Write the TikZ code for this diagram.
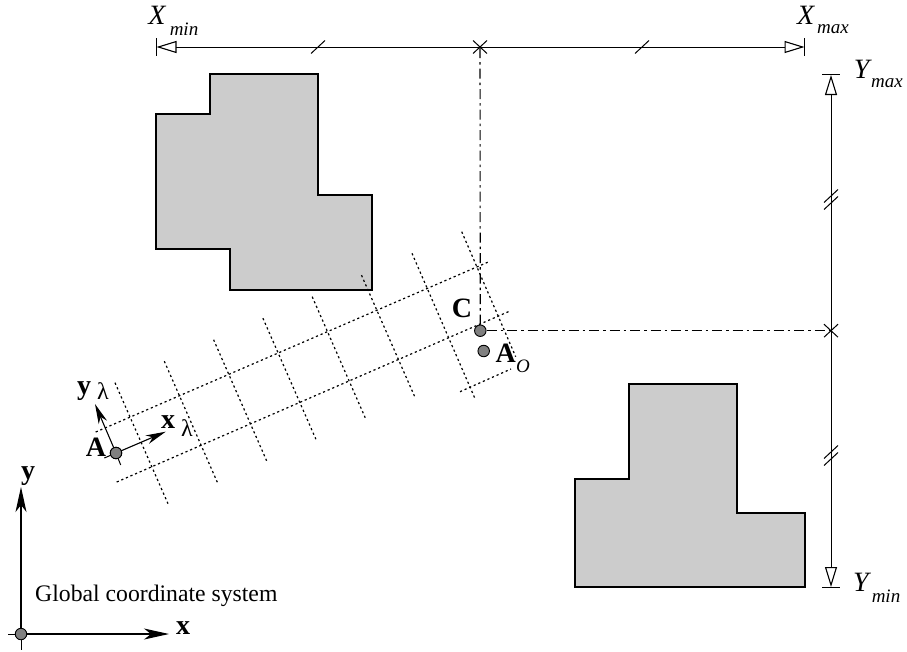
\documentclass[tikz,border=0pt]{standalone}
\usepackage{fontspec}
\setmainfont{Liberation Serif}
\usetikzlibrary{calc}
\usetikzlibrary{arrows.meta}
\tikzset{
  shape box/.style={draw=black,fill=black!20,line width=2.2pt,line join=miter},
  dim line/.style={black,line width=1pt},
  dim tip/.style={{Triangle[open,length=20pt,width=12pt,line width=1.1pt]}-{Triangle[open,length=20pt,width=12pt,line width=1.1pt]}},
  grid line/.style={black,line width=1.2pt,dash pattern=on 2.2pt off 2.8pt},
  center line/.style={black,line width=1.1pt,dash pattern=on 10pt off 4pt on 2.5pt off 4pt},
  axis line/.style={black,line width=1.1pt,-{Stealth[length=25pt,width=11pt,inset=7pt]}},
  local line/.style={black,line width=1.1pt,-{Stealth[length=20pt,width=9pt,inset=6pt]}},
  dot/.style={circle,draw=black,fill=black!50,line width=.9pt,minimum size=11.5pt,inner sep=0pt},
  big/.style={font=\fontsize{28}{30}\selectfont\itshape,inner sep=0pt},
  small/.style={font=\fontsize{19}{21}\selectfont\itshape,inner sep=0pt},
  bold/.style={font=\fontsize{28}{30}\selectfont\bfseries,inner sep=0pt},
  lam/.style={font=\fontsize{24}{26}\selectfont,inner sep=0pt}
}
\begin{document}
\begin{tikzpicture}[x=1pt,y=-1pt]
\useasboundingbox (0,0) rectangle (907,651);

% shapes
\draw[shape box] (210,74)--(318,74)--(318,195)--(372,195)--(372,290)--(230,290)--(230,249)--(156,249)--(156,114)--(210,114)--cycle;
\draw[shape box] (629,384)--(737,384)--(737,513)--(805,513)--(805,587)--(575,587)--(575,479)--(629,479)--cycle;

% local grid
\foreach \i in {0,...,5}
  \draw[grid line] ($ (115,382.7)+\i*(49.3,-21.5) $)--++(53,121);
\draw[grid line] (412,253.3)--(475.3,399.3);
\draw[grid line] (461.7,231.7)--(515.7,356.7);
\draw[grid line] (95.7,432)--(489,261.7);
\draw[grid line] (116.7,482)--(510.7,310.7);
\draw[grid line] (460,391.7)--(511,369);

% points
\node[dot] (A) at (116,453) {};
\node[dot] (C) at (480.3,330.7) {};
\node[dot] (AO) at (483.7,351) {};

% extents
\coordinate (XL) at (156.5,47);
\coordinate (XR) at (804.5,47);
\coordinate (YT) at (831,75);
\coordinate (YB) at (831,587);
\coordinate (XC) at (480,47);
\coordinate (YC) at (831,330.7);
\draw[dim line,dim tip] (XL)--(XR);
\draw[dim line,dim tip] (YT)--(YB);
\draw[dim line] ($ (XL)+(0,-9) $)--++(0,18);
\draw[dim line] ($ (XR)+(0,-9) $)--++(0,18);
\draw[dim line] ($ (YT)+(-9,-1) $)--++(18,0);
\draw[dim line] ($ (YB)+(-9,0) $)--++(18,0);
\draw[center line] (C)--(XC);
\draw[center line] (C)--(YC);

% tick marks
\foreach \p in {(318,47),(642,47),(831,196),(831,203),(831,452),(831,459)}
  \draw[dim line] \p++(-7,6.5)--++(14,-13);
\foreach \p in {(XC),(YC)} {
  \draw[dim line] \p++(-7,6.5)--++(14,-13);
  \draw[dim line] \p++(-7,-6.5)--++(14,13);
}

% local axes
\coordinate (Ax) at (165.7,431.7);
\coordinate (Ay) at (95,404);
\draw[local line] (A.center)--(Ax);
\draw[local line] (A.center)--(Ay);
\draw[dim line] (A)--(104.3,458);
\draw[dim line] (A)--(120.7,465);
\node[dot] at (A) {};

% global axes
\coordinate (Ox) at (169,634);
\coordinate (Oy) at (21,487);
\node[dot] (O) at (21,634) {};
\draw[axis line] (O)--(Ox);
\draw[axis line] (O)--(Oy);
\draw[dim line] (O)--(7.5,634);
\draw[dim line] (O)--(21,650);

% labels
\node[big] (xminl) at (157,15) {X};
\node[small] (xmins) at (184,29) {min};
\node[big] (xmaxl) at (805.7,15) {X};
\node[small] (xmaxs) at (833,29) {max};
\node[big] (ymaxl) at (861.7,69) {Y};
\node[small] (ymaxs) at (887,83) {max};
\node[big] (yminl) at (861,582) {Y};
\node[small] (ymins) at (886,596) {min};
\node[bold] (Cl) at (462,308) {C};
\node[bold] (Al) at (96,447) {A};
\node[bold] (AOl) at (505.7,353) {A};
\node[small] (AOs) at (523,366) {O};
\node[bold] (yl) at (84,391) {y};
\node[lam] (yls) at (103,391) {λ};
\node[bold] (xl) at (168,422) {x};
\node[lam] (xls) at (187,428) {λ};
\node[bold] (gy) at (28,476) {y};
\node[bold] (gx) at (183,628) {x};
\node[font=\fontsize{23.7}{26}\selectfont,inner sep=0pt,anchor=base west] (gl) at (35,601.7) {Global coordinate system};
\end{tikzpicture}
\end{document}
